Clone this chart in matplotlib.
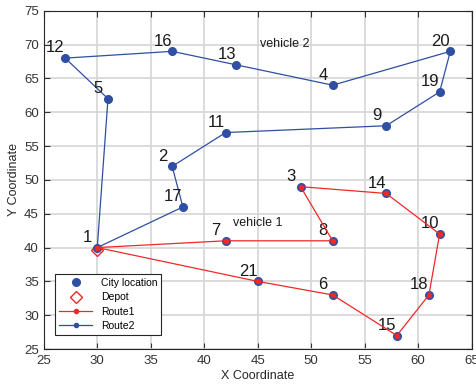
import matplotlib.pyplot as plt
import numpy as np

# city coordinates (index = city number - 1)
city_x = np.array([30, 37, 49, 52, 31, 52, 42, 52, 57, 62, 42, 27, 43, 57, 58, 37, 38, 61, 62, 63, 45])
city_y = np.array([40, 52, 49, 64, 62, 33, 41, 41, 58, 42, 57, 68, 67, 48, 27, 69, 46, 33, 63, 69, 35])

route1 = [1, 7, 8, 3, 14, 10, 18, 15, 6, 21, 1]
route2 = [1, 17, 2, 11, 9, 19, 20, 4, 13, 16, 12, 5, 1]
depot = 1

blue = "#2f4fa2"
red = "#f02828"

plt.rcParams["font.family"] = "Liberation Sans"

fig = plt.figure(figsize=(4.76, 3.84), dpi=100)
ax = fig.add_axes([0.092, 0.091, 0.899, 0.881])

ax.plot(city_x, city_y, "o", color=blue, markersize=5.5, linestyle="none", label="City location", zorder=3)
ax.plot(city_x[depot - 1], city_y[depot - 1] - 0.3, "D", mfc="none", mec=red, markersize=6.5, mew=1,
        linestyle="none", label="Depot", zorder=2)

r1 = np.array(route1) - 1
r2 = np.array(route2) - 1
ax.plot(city_x[r1], city_y[r1], "-o", color=red, lw=0.9, markersize=3, label="Route1", zorder=4)
ax.plot(city_x[r2], city_y[r2], "-o", color=blue, lw=0.9, markersize=3, label="Route2", zorder=2)

for i in range(len(city_x)):
    ax.text(city_x[i] - 0.9, city_y[i] + 1.5, str(i + 1), fontsize=12, ha="center", va="center", color="#1a1a1a")

ax.text(45.2, 70.1, "vehicle 2", fontsize=9, va="center", color="#1a1a1a")
ax.text(42.7, 43.6, "vehicle 1", fontsize=9, va="center", color="#1a1a1a")

ax.set_xlim(25, 65)
ax.set_ylim(25, 75)
ax.set_xticks(np.arange(25, 66, 5))
ax.set_yticks(np.arange(25, 76, 5))
ax.grid(True, color="#d6d6d6", lw=1.2)
ax.set_axisbelow(True)
ax.tick_params(direction="in", labelsize=9.5, colors="#333333", length=4, top=True, right=True)
ax.tick_params(axis="x", pad=4.5)
for s in ax.spines.values():
    s.set_color("#262626")
ax.set_xlabel("X Coordinate", fontsize=9, color="#262626", labelpad=2)
ax.set_ylabel("Y Coordinate", fontsize=9, color="#262626", labelpad=3)

leg = ax.legend(loc="lower left", bbox_to_anchor=(0.026, 0.041), fontsize=7.5, fancybox=False,
                edgecolor="#262626", framealpha=1, handlelength=3.2, borderpad=0.4,
                labelspacing=0.42, borderaxespad=0)
leg.get_frame().set_linewidth(0.8)

fig.savefig("out.png", dpi=100)
